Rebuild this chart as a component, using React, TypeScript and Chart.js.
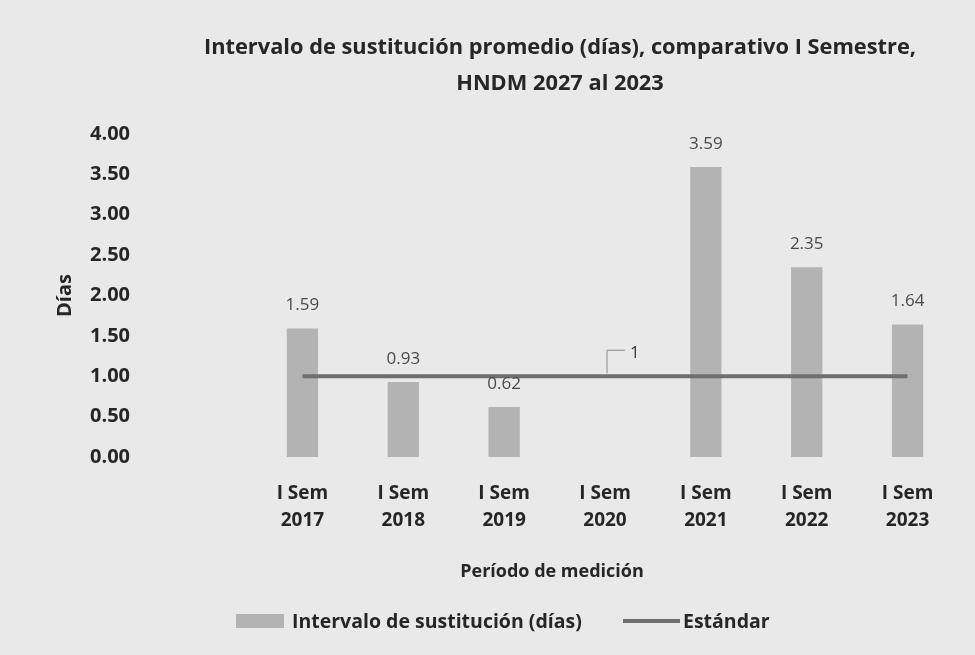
import React, { useEffect, useRef } from "react";
import { Chart, registerables } from "chart.js";

Chart.register(...registerables);

const FONT = "'Open Sans', Lato, sans-serif";

const categories: string[][] = [
  ["I Sem", "2017"],
  ["I Sem", "2018"],
  ["I Sem", "2019"],
  ["I Sem", "2020"],
  ["I Sem", "2021"],
  ["I Sem", "2022"],
  ["I Sem", "2023"],
];
const intervalValues: (number | null)[] = [1.59, 0.93, 0.62, null, 3.59, 2.35, 1.64];
const standardValues: number[] = [1, 1, 1, 1, 1, 1, 1];
const standardLabelIndex = 3;
const yMin = 0;
const yMax = 4;
const yStep = 0.5;
const titleLines: string[] = [
  "Intervalo de sustitución promedio (días), comparativo I Semestre,",
  "HNDM 2027 al 2023",
];
const xAxisTitle = "Período de medición";
const yAxisTitle = "Días";
const seriesNames: string[] = ["Intervalo de sustitución (días)", "Estándar"];

const BG = "#e9e9e9";
const BAR_COLOR = "#b3b3b3";
const LINE_COLOR = "#6f6f6f";
const TEXT = "#262626";

const decorPlugin = {
  id: "decor",
  afterDatasetsDraw(chart: any) {
    const ctx = chart.ctx as CanvasRenderingContext2D;
    ctx.save();
    // bar value labels
    const barMeta = chart.getDatasetMeta(0);
    ctx.font = `17px ${FONT}`;
    ctx.fillStyle = "#4a4a4a";
    ctx.textAlign = "center";
    ctx.textBaseline = "middle";
    barMeta.data.forEach((el: any, i: number) => {
      const v = intervalValues[i];
      if (v == null) return;
      ctx.fillText(v.toFixed(2), el.x, el.y - 23);
    });
    // standard label with leader line
    const lineMeta = chart.getDatasetMeta(1);
    const p = lineMeta.data[standardLabelIndex];
    if (p) {
      ctx.strokeStyle = "#8a8a8a";
      ctx.lineWidth = 1;
      ctx.beginPath();
      ctx.moveTo(p.x + 2, p.y - 3);
      ctx.lineTo(p.x + 2, p.y - 26);
      ctx.lineTo(p.x + 20, p.y - 26);
      ctx.stroke();
      ctx.textAlign = "left";
      ctx.fillStyle = "#3a3a3a";
      ctx.fillText(String(standardValues[standardLabelIndex]), p.x + 25, p.y - 23);
    }
    ctx.restore();
  },
  afterDraw(chart: any) {
    const ctx = chart.ctx as CanvasRenderingContext2D;
    ctx.save();
    // title
    ctx.font = `bold 21.8px ${FONT}`;
    ctx.fillStyle = TEXT;
    ctx.textAlign = "center";
    ctx.textBaseline = "middle";
    ctx.fillText(titleLines[0], 560, 48);
    ctx.fillText(titleLines[1], 560, 84);
    // x axis title
    ctx.font = `bold 18px ${FONT}`;
    ctx.fillText(xAxisTitle, 552, 572);
    // legend
    const ly = 621;
    ctx.fillStyle = BAR_COLOR;
    ctx.fillRect(236, ly - 7, 48, 14);
    ctx.font = `bold 19.5px ${FONT}`;
    ctx.fillStyle = TEXT;
    ctx.textAlign = "left";
    ctx.fillText(seriesNames[0], 292, ly + 1);
    ctx.strokeStyle = LINE_COLOR;
    ctx.lineWidth = 4;
    ctx.beginPath();
    ctx.moveTo(623, ly);
    ctx.lineTo(680, ly);
    ctx.stroke();
    ctx.fillText(seriesNames[1], 683, ly + 1);
    ctx.restore();
  },
};

export default function App() {
  const canvasRef = useRef<HTMLCanvasElement | null>(null);

  useEffect(() => {
    if (!canvasRef.current) return;
    const chart = new Chart(canvasRef.current, {
      type: "bar",
      data: {
        labels: categories,
        datasets: [
          {
            type: "bar",
            label: seriesNames[0],
            data: intervalValues,
            backgroundColor: BAR_COLOR,
            barPercentage: 0.31,
            categoryPercentage: 1,
            order: 2,
          },
          {
            type: "line",
            label: seriesNames[1],
            data: standardValues,
            borderColor: LINE_COLOR,
            borderWidth: 4,
            pointRadius: 0,
            fill: false,
            order: 1,
          } as any,
        ],
      },
      options: {
        responsive: false,
        animation: false,
        devicePixelRatio: 1,
        layout: { padding: { top: 129, left: 50, right: 17, bottom: 60 } },
        plugins: {
          legend: { display: false },
          title: { display: false },
          tooltip: { enabled: false },
        },
        scales: {
          x: {
            offset: true,
            grid: { display: false, drawTicks: false },
            border: { display: false },
            ticks: {
              color: TEXT,
              font: { family: FONT, size: 19, weight: "bold", lineHeight: 1.42 },
              padding: 23,
              maxRotation: 0,
              autoSkip: false,
            },
            title: { display: false },
            afterFit: (s: any) => {
              s.height = 138;
            },
          },
          y: {
            min: yMin,
            max: yMax,
            grid: { display: false, drawTicks: false },
            border: { display: false },
            ticks: {
              stepSize: yStep,
              color: TEXT,
              font: { family: FONT, size: 20, weight: "bold" },
              padding: 122,
              callback: (v: any) => Number(v).toFixed(2),
            },
            title: {
              display: true,
              text: yAxisTitle,
              color: TEXT,
              font: { family: FONT, size: 20, weight: "bold" },
              padding: { top: 3, bottom: 3 },
            },
            afterFit: (s: any) => {
              s.width = 202;
            },
          },
        },
      } as any,
      plugins: [decorPlugin],
    });
    return () => chart.destroy();
  }, []);

  return (
    <div
      style={{
        position: "fixed",
        left: 0,
        top: 0,
        width: 975,
        height: 655,
        background: BG,
      }}
    >
      <canvas ref={canvasRef} width={975} height={655} style={{ display: "block" }} />
    </div>
  );
}
